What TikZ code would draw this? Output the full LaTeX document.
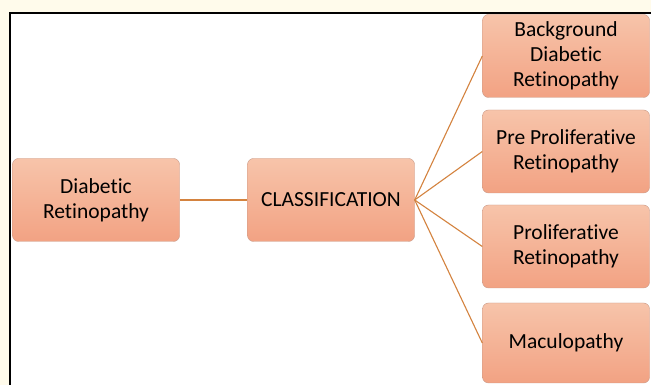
\documentclass[tikz,border=0pt]{standalone}
\usepackage{fontspec}
\setmainfont{Carlito}[RawFeature={-liga}]
\definecolor{paper}{HTML}{FFFBEB}
\definecolor{boxtop}{HTML}{F7C4AA}
\definecolor{boxbot}{HTML}{F2A283}
\definecolor{boxline}{HTML}{C99A88}
\definecolor{linkline}{HTML}{D4833F}
\begin{document}
\begin{tikzpicture}[x=1pt,y=1pt]
        \tikzstyle{stage}=[rectangle,rounded corners=6pt,draw=boxline,top color=boxtop,bottom color=boxbot,minimum width=167pt,minimum height=83pt,align=center,font=\fontsize{21.5}{25}\selectfont,inner sep=2pt]
        \tikzstyle{edge}=[draw=linkline,line width=1.1pt]
        \useasboundingbox (0,0) rectangle (651,385);
        \clip (0,0) rectangle (651,385);
        \fill[paper] (0,0) rectangle (651,385);
        \fill[white] (10,-5) rectangle (660,372);
        \draw[line width=2.6pt] (10,-5) -- (10,372) -- (660,372);
        \begin{scope}
           \node [stage] (dr) at (96,185) {Diabetic\\Retinopathy};
           \node [stage] (cls) at (331,185) {CLASSIFICATION};
           \node [stage] (bg) at (566,329) {Background\\Diabetic\\Retinopathy};
           \node [stage] (pre) at (566,233.5) {Pre Proliferative\\Retinopathy};
           \node [stage] (pro) at (566,138.5) {Proliferative\\Retinopathy};
           \node [stage,minimum height=80pt] (mac) at (566,42) {Maculopathy};
           \path[edge] (dr) -- (cls);
           \path[edge] (cls.east) -- (bg.west);
           \path[edge] (cls.east) -- (pre.west);
           \path[edge] (cls.east) -- (pro.west);
           \path[edge] (cls.east) -- (mac.west);
        \end{scope}
      \end{tikzpicture}
\end{document}
